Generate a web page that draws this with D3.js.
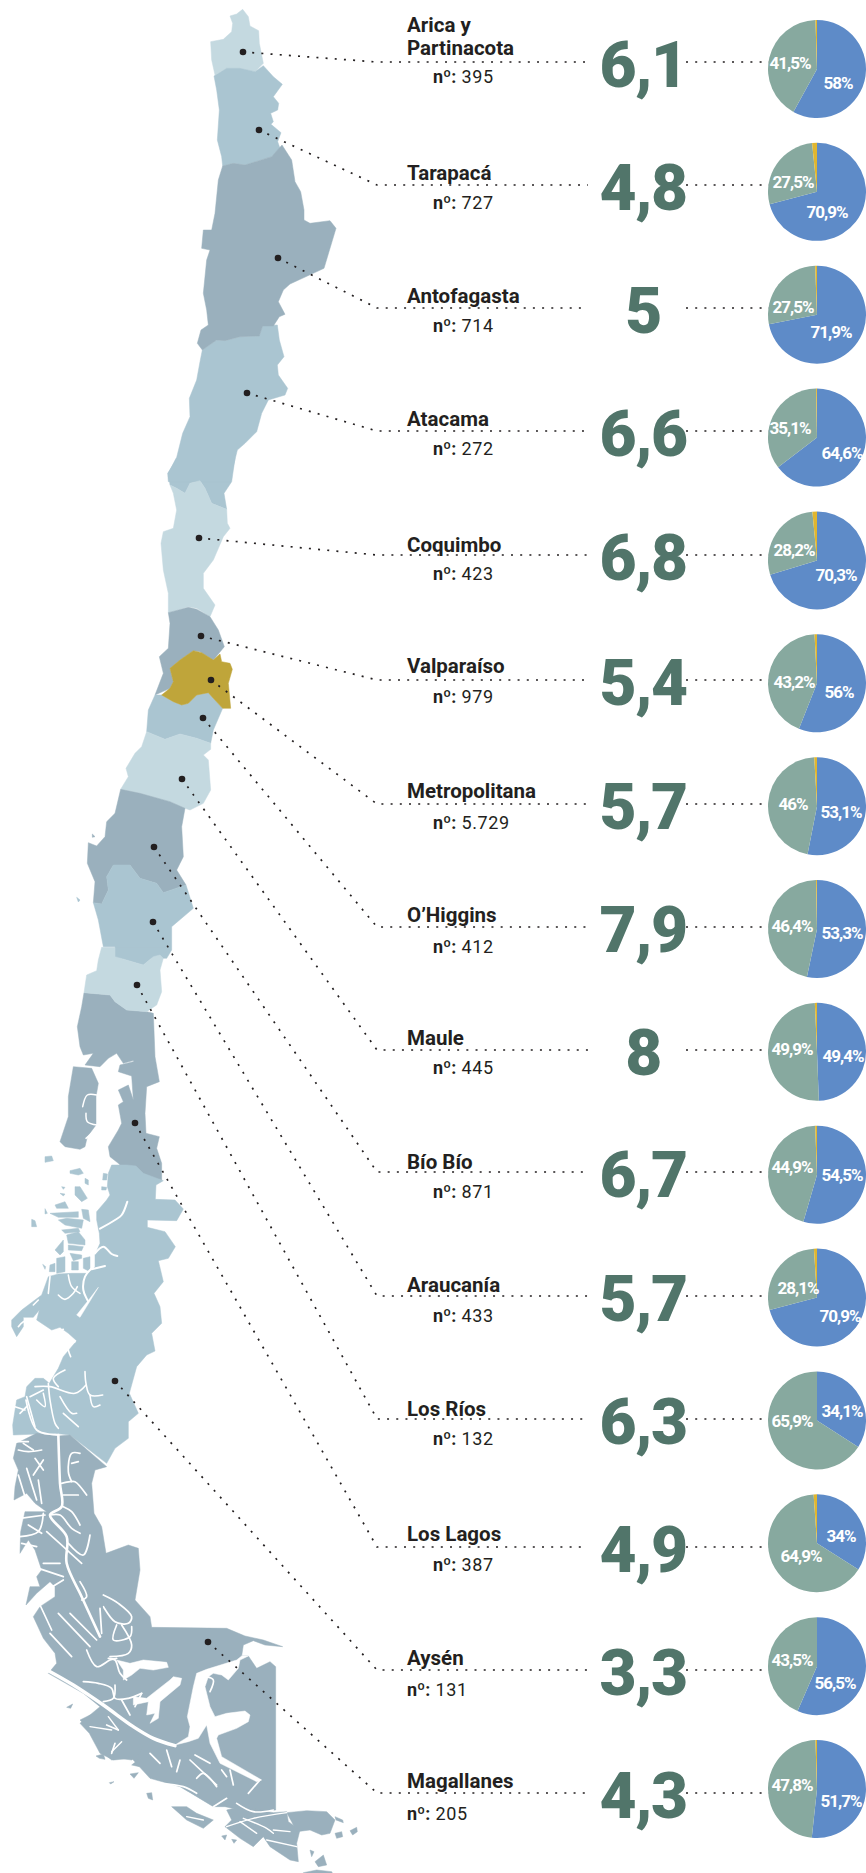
<!doctype html>
<html lang="es">
<head>
<meta charset="utf-8">
<title>Regiones de Chile</title>
<script src="https://cdn.jsdelivr.net/npm/d3@7"></script>
<style>
  html, body { margin: 0; padding: 0; background: #fff; }
  svg { display: block; }
  text { font-family: Roboto, sans-serif; }
  .name { font-size: 20.5px; font-weight: 700; fill: #231f20; }
  .count { font-size: 18px; fill: #231f20; letter-spacing: .6px; }
  .count .n { font-weight: 700; letter-spacing: 0; }
  .big { font-size: 64px; font-weight: 900; fill: #51756a; text-anchor: middle; letter-spacing: -1.5px; }
  .pct { font-size: 17px; font-weight: 700; fill: #fff; text-anchor: middle; letter-spacing: -1px; }
</style>
</head>
<body>
<svg id="chart" width="866" height="1873"></svg>
<script>
// data
var regions = ["Arica y Partinacota", "Tarapacá", "Antofagasta", "Atacama", "Coquimbo", "Valparaíso", "Metropolitana",
  "O’Higgins", "Maule", "Bío Bío", "Araucanía", "Los Ríos", "Los Lagos", "Aysén", "Magallanes"];
var counts = ["395", "727", "714", "272", "423", "979", "5.729", "412", "445", "871", "433", "132", "387", "131", "205"];
var scores = ["6,1", "4,8", "5", "6,6", "6,8", "5,4", "5,7", "7,9", "8", "6,7", "5,7", "6,3", "4,9", "3,3", "4,3"];
var shareBlue = [58, 70.9, 71.9, 64.6, 70.3, 56, 53.1, 53.3, 49.4, 54.5, 70.9, 34.1, 34, 56.5, 51.7];
var shareGreen = [41.5, 27.5, 27.5, 35.1, 28.2, 43.2, 46, 46.4, 49.9, 44.9, 28.1, 65.9, 64.9, 43.5, 47.8];
var shareYellow = [0.5, 1.6, 0.6, 0.3, 1.5, 0.8, 0.9, 0.3, 0.7, 0.6, 1, 0, 1.1, 0, 0.5];

// layout
var lineY = [62, 185, 308, 431, 555, 680, 804, 927, 1050, 1172, 1296, 1419, 1547, 1670, 1793];
var nameY = [55, 180, 303, 426, 552, 673, 798, 922, 1045, 1169, 1292, 1416, 1541, 1665, 1788];
var countY = [83, 209, 332, 455, 580, 703, 829, 953, 1074, 1198, 1322, 1445, 1571, 1696, 1820];
var countX = [433, 433, 433, 433, 433, 433, 433, 433, 433, 433, 433, 433, 433, 407, 407];
var dots = [[243, 52], [259, 130], [278, 258], [247, 393], [199, 538], [201, 636], [211, 680], [203, 718], [182, 779],
  [154, 847], [153, 922], [137, 985], [135, 1123], [115, 1381], [208, 1642]];
var blueLabel = [[21, 14], [10, 20], [14, 17], [25, 15], [19, 15], [22, 9], [24, 6], [25, 4], [26, 4], [25, 0], [23, 18], [25, -9], [24, -7], [18, 17], [24, 12]];
var greenLabel = [[-27, -6], [-24, -10], [-24, -8], [-27, -10], [-23, -10], [-23, -1], [-24, -2], [-25, -3], [-25, -3], [-25, -8], [-19, -10], [-25, 1], [-16, 13], [-25, -6], [-25, -4]];

// map outlines, traced on 3x crops; each sheet has its own origin
var sheets = { A: [0, 0], B: [0, 460], C: [0, 950], D: [0, 1400], E: [0, 1130], G: [40, 1630] };
var light = "#c4d9e0", mid = "#aac5d1", dark = "#9ab0bd", gold = "#bfa53a";

var arica = [[728,28],[745,50],[750,78],[776,92],[778,130],[790,190],[765,215],[720,205],[680,205],[645,225],[635,180],[632,125],[670,118],[695,95],[698,70],[690,48],[710,42]];
var tarapaca = [[642,228],[680,205],[720,205],[765,215],[790,197],[820,230],[847,253],[820,290],[836,310],[833,330],[812,340],[820,365],[813,373],[843,398],[833,425],[840,445],[815,470],[735,495],[700,490],[668,498],[665,470],[652,420],[658,330],[650,270]];
var antofagasta = [[668,498],[700,490],[735,495],[815,470],[846,435],[875,480],[885,545],[902,575],[912,630],[912,660],[930,670],[990,662],[1008,685],[972,805],[870,852],[850,870],[835,905],[855,943],[838,950],[820,978],[788,978],[778,1008],[720,1010],[675,1022],[650,1020],[607,1050],[592,1030],[603,990],[625,975],[620,930],[610,880],[620,780],[630,750],[605,745],[610,690],[635,690],[645,640],[655,540]];
var atacama = [[607,1050],[650,1020],[675,1022],[720,1010],[778,1008],[788,978],[832,975],[838,1020],[852,1070],[832,1095],[835,1125],[863,1165],[855,1185],[805,1200],[785,1240],[770,1295],[735,1330],[712,1350],[695,1420],[690,1445],[505,1445],[503,1420],[528,1380],[548,1300],[570,1250],[568,1195],[590,1140],[600,1085]];
var atacamaEnd = [[528,-5],[705,-5],[695,65],[672,100],[680,148],[635,130],[615,85],[600,62],[570,70],[555,100],[530,85],[510,75],[505,40]];
var coquimbo = [[510,75],[530,85],[555,100],[570,70],[600,62],[615,85],[635,130],[680,148],[682,190],[690,205],[670,230],[640,300],[610,340],[610,385],[645,435],[630,470],[590,445],[565,440],[505,458],[505,400],[490,330],[483,250],[490,215],[520,205],[530,150],[520,100]];
var valparaiso = [[505,458],[565,442],[590,448],[630,470],[655,510],[673,560],[640,600],[600,575],[580,572],[540,600],[510,625],[520,665],[510,685],[465,705],[490,640],[478,590],[505,565],[510,490]];
var metropolitana = [[510,625],[540,600],[580,572],[605,578],[640,600],[660,582],[665,605],[690,610],[697,628],[685,670],[692,745],[668,745],[640,715],[625,698],[590,705],[565,730],[545,735],[520,725],[485,705],[510,685],[520,665]];
var ohiggins = [[465,705],[485,705],[520,725],[545,735],[565,730],[590,705],[625,698],[640,715],[668,745],[640,810],[632,850],[590,835],[540,822],[495,838],[440,815],[445,750]];
var maule = [[440,815],[495,838],[540,822],[590,835],[632,850],[632,868],[610,885],[625,900],[632,990],[610,1030],[570,1050],[555,1045],[510,1025],[420,1000],[362,988],[385,950],[378,925],[405,880],[425,860]];
var biobio = [[362,988],[420,1000],[510,1025],[555,1045],[545,1100],[550,1190],[530,1230],[558,1275],[490,1298],[470,1270],[420,1255],[390,1215],[340,1215],[320,1250],[325,1290],[305,1332],[280,1328],[285,1265],[262,1210],[265,1148],[290,1158],[315,1130],[320,1085],[345,1060]];
var biobioIslet = [[277,1122],[285,1130],[277,1132]];
var araucania = [[280,1328],[305,1332],[325,1290],[320,1250],[340,1215],[390,1215],[420,1255],[470,1270],[490,1298],[558,1275],[580,1345],[515,1400],[515,1470],[500,1495],[345,1495],[345,1460],[310,1460],[295,1380]];
var araucaniaIslet = [[230,1312],[240,1320],[235,1326]];
var araucaniaEnd = [[342,-5],[510,-5],[480,22],[460,20],[430,45],[345,20]];
var losRios = [[305,-8],[345,-8],[345,20],[430,45],[460,20],[480,15],[490,25],[480,60],[485,125],[470,165],[440,185],[380,180],[345,155],[330,135],[252,128],[260,75],[290,62],[295,30]];
var losLagos = [[252,128],[330,135],[345,155],[380,180],[440,185],[460,190],[465,320],[478,395],[440,410],[435,490],[438,550],[478,560],[470,595],[485,640],[485,690],[430,680],[405,648],[370,655],[355,640],[330,620],[325,590],[355,540],[365,520],[355,465],[370,455],[355,420],[385,405],[400,450],[395,378],[355,365],[360,345],[400,335],[415,290],[405,330],[370,340],[350,310],[325,325],[300,350],[255,345],[280,310],[250,315],[240,290],[232,230],[245,170]];
var chiloe = [[220,350],[275,355],[295,400],[288,440],[288,525],[262,560],[255,590],[240,598],[195,590],[180,575],[205,500],[205,440]];
var chiloeFjords = [[[290,435],[262,435],[248,470]], [[292,525],[262,515],[258,490]], [[275,550],[258,565]]];

var aysen = [[335,105],[380,105],[408,108],[430,130],[490,152],[468,165],[466,208],[525,210],[550,237],[530,272],[442,270],[442,292],[495,305],[526,350],[505,385],[475,392],[490,455],[462,490],[480,530],[485,580],[455,610],[465,663],[440,675],[410,710],[388,790],[415,850],[385,875],[385,925],[345,955],[320,1000],[210,915],[165,910],[40,915],[38,885],[50,810],[75,800],[80,770],[105,745],[130,745],[148,760],[175,715],[190,680],[230,632],[205,610],[180,592],[155,600],[110,570],[118,540],[100,562],[70,562],[70,590],[50,620],[35,590],[35,570],[65,540],[105,510],[125,495],[145,440],[175,432],[215,430],[260,430],[285,410],[285,375],[300,340],[298,310],[290,270],[290,245],[320,210],[330,195],[322,170],[325,130]];
var aysenIslands = [
  [[210,122],[240,115],[250,130],[235,135],[210,130]],
  [[255,145],[265,150],[265,165],[255,160]],
  [[225,170],[240,170],[262,205],[245,215],[225,195]],
  [[165,225],[195,215],[205,235],[170,235]],
  [[150,250],[235,245],[235,262],[175,262]],
  [[245,238],[265,240],[270,275],[250,265]],
  [[175,270],[200,265],[250,270],[245,295],[195,285]],
  [[185,300],[235,295],[240,305],[195,310]],
  [[200,315],[235,305],[255,330],[255,345],[205,340]],
  [[205,345],[250,350],[245,362],[205,360]],
  [[165,360],[190,330],[190,365],[180,375]],
  [[170,385],[195,380],[195,425],[170,430]],
  [[210,370],[245,375],[245,385],[220,392]],
  [[215,395],[235,395],[235,420],[215,420]],
  [[250,385],[270,380],[270,425],[250,415]],
  [[150,405],[165,400],[165,425],[148,425]],
  [[128,403],[137,410],[135,418]],
  [[95,268],[105,272],[110,290],[95,290]],
  [[135,236],[142,250],[135,252]],
  [[135,80],[155,78],[160,92],[135,97]],
  [[185,170],[195,172],[190,178]],
  [[180,190],[195,192],[190,198]],
  [[310,130],[322,132],[320,150],[308,150]],
  [[305,170],[320,172],[318,180],[305,180]]
];
var aysenFjords = [
  [[382,215],[365,255],[345,270],[300,296]],
  [[285,370],[310,350],[335,372],[352,378]],
  [[275,418],[315,408]],
  [[280,410],[255,440],[250,480],[265,515]],
  [[175,495],[195,508],[220,490],[232,470]],
  [[225,635],[205,650],[212,680]],
  [[55,590],[70,575],[100,570]],
  [[140,620],[190,598]],
  [[255,725],[258,760],[270,795],[308,795]],
  [[258,765],[225,790],[150,770],[105,770]],
  [[270,795],[280,830],[300,825]],
  [[145,760],[150,810],[165,880],[175,895]],
  [[195,720],[160,745],[175,770]],
  [[80,800],[105,890]],
  [[130,790],[135,830],[110,810]],
  [[190,850],[235,890]],
  [[180,800],[215,850],[230,850]],
  [[90,800],[130,780]],
  [[150,440],[145,490]],
  [[205,435],[215,470],[240,490]],
  [[60,850],[80,830]],
  [[45,830],[75,840]],
  [[115,510],[100,525]]
];
var aysenPatch = [[230,555],[240,562],[295,472],[270,505]];
var aysenPatchB = [[170,640],[188,635],[185,655]];

var magallanes = [[210,105],[320,200],[285,210],[275,250],[282,340],[305,380],[318,460],[385,435],[415,445],[420,510],[405,600],[450,650],[455,682],[680,685],[735,708],[790,720],[848,740],[795,735],[760,722],[730,735],[725,768],[745,768],[770,805],[810,785],[827,800],[827,1230],[760,1238],[675,1220],[640,1220],[590,1190],[540,1160],[450,1135],[395,1075],[340,1080],[300,1060],[268,1000],[240,970],[300,920],[250,880],[145,820],[170,790],[165,760],[130,715],[100,650],[120,620],[165,590],[165,560],[150,545],[110,580],[78,615],[90,560],[120,560],[110,530],[125,510],[105,450],[85,420],[60,460],[62,395],[75,335],[140,335],[105,310],[80,280],[42,300],[45,260],[55,210],[40,175],[50,130],[110,100],[175,108]];
var magFjords = [
  [[175,105],[180,250],[185,320],[150,345],[200,410],[200,490],[245,590],[300,710]],
  [[185,250],[210,245],[225,245],[260,285]],
  [[215,245],[205,215],[215,160],[240,160]],
  [[235,185],[215,190]],
  [[190,285],[235,285]],
  [[190,320],[215,335],[240,375]],
  [[150,345],[180,345],[215,385],[240,400]],
  [[140,395],[190,440],[245,490]],
  [[205,430],[250,465],[270,405]],
  [[240,545],[260,590],[245,600]],
  [[310,585],[355,610],[395,650],[385,670],[345,665],[310,620],[330,650]],
  [[300,625],[305,700]],
  [[350,675],[340,720],[390,710],[395,680]],
  [[365,675],[395,735],[385,760],[330,770]],
  [[78,0],[110,90],[175,105]],
  [[105,175],[130,210]],
  [[55,150],[85,155],[125,150]],
  [[115,240],[125,310]],
  [[80,205],[110,300]],
  [[210,640],[290,720]],
  [[175,640],[270,740]],
  [[120,615],[155,690]],
  [[60,355],[135,345]],
  [[85,375],[125,400]],
  [[60,410],[115,395],[130,340]],
  [[100,500],[190,530]],
  [[125,580],[190,540]],
  [[150,700],[215,770]],
  [[40,125],[85,125]],
  [[70,130],[100,150]],
  [[130,180],[100,225]],
  [[55,225],[75,290]],
  [[65,430],[110,440]],
  [[130,490],[180,490]]
];
var strait = [[605,78],[590,90],[500,118],[470,130],[460,170],[442,260],[450,290],[445,320],[405,345],[445,335],[475,325],[500,285],[510,340],[540,400],[650,455],[665,450],[545,380],[530,325],[535,315],[590,295],[625,275],[630,255],[615,243],[560,250],[525,260],[510,230],[495,170],[505,140],[520,130],[545,135],[565,150],[595,115],[600,90],[625,78]];
var laguna = [[230,90],[270,100],[310,90],[380,97],[385,112],[340,120],[300,115],[275,135],[250,150],[250,120]];
var bird = [[425,145],[400,140],[390,150],[345,185],[320,205],[280,200],[280,225],[325,215],[320,255],[345,250],[330,280],[355,265],[360,215],[420,165]];
var magChannels = [
  [[25,122],[100,165],[190,225],[280,290],[340,325],[405,347]],
  [[205,85],[225,90],[240,130],[260,150]],
  [[140,60],[170,110],[210,90],[230,85]],
  [[130,155],[175,160],[215,175],[225,205],[265,205],[305,190]],
  [[225,165],[220,205],[190,215]],
  [[305,190],[285,230]],
  [[245,210],[270,255]],
  [[450,390],[530,465]],
  [[570,420],[580,465]],
  [[470,445],[490,430],[530,470]],
  [[660,450],[625,490]],
  [[500,140],[520,150],[510,185]],
  [[545,420],[560,440]],
  [[590,520],[640,545],[700,540]],
  [[520,530],[560,505]],
  [[445,490],[510,530]],
  [[360,460],[430,470],[470,490]],
  [[200,285],[235,300]],
  [[225,340],[215,370]],
  [[330,370],[360,400]],
  [[380,360],[395,410]],
  [[420,390],[410,425]],
  [[465,375],[510,400]]
];
var magIslands = [
  [[120,270],[150,255],[210,250],[240,285],[290,315],[310,345],[300,370],[275,390],[240,385],[215,390],[180,360],[175,330],[150,300]],
  [[395,530],[440,530],[470,550],[520,570],[490,595],[440,570]],
  [[560,540],[600,530],[700,548],[740,545],[745,575],[780,600],[770,640],[775,695],[750,690],[690,650],[670,620],[640,650],[600,625],[555,590],[575,570]],
  [[740,548],[800,542],[860,545],[885,570],[870,610],[845,615],[810,600],[770,605],[755,575]],
  [[885,560],[908,570],[910,578],[888,570]],
  [[885,610],[905,605],[908,620],[890,625]],
  [[930,602],[950,592],[952,605],[938,615]],
  [[810,660],[822,665],[815,680]],
  [[825,695],[850,675],[860,705],[835,710]],
  [[790,728],[830,720],[875,725],[880,735],[790,735]],
  [[80,232],[98,222],[92,235]],
  [[208,458],[222,455],[212,462]],
  [[168,378],[190,372],[195,388],[178,385]],
  [[270,432],[295,428],[282,445]],
  [[275,405],[300,385],[298,410]],
  [[320,490],[335,488],[338,510],[325,505]],
  [[545,618],[560,615],[555,630]],
  [[575,628],[590,630],[582,640]]
];
var islandChannels = [
  [[150,290],[215,300]],
  [[205,260],[235,300]],
  [[245,335],[215,365]],
  [[610,565],[680,595],[700,610]],
  [[560,590],[640,565],[740,548]],
  [[700,600],[750,605]],
  [[680,630],[770,650]],
  [[600,575],[650,610]],
  [[440,560],[490,570]]
];

var mapShapes = [
  { sheet: "B", fill: mid, pts: atacamaEnd },
  { sheet: "A", fill: mid, pts: atacama },
  { sheet: "A", fill: light, pts: arica },
  { sheet: "A", fill: mid, pts: tarapaca },
  { sheet: "A", fill: dark, pts: antofagasta },
  { sheet: "B", fill: light, pts: coquimbo },
  { sheet: "B", fill: dark, pts: valparaiso },
  { sheet: "B", fill: mid, pts: ohiggins },
  { sheet: "B", fill: light, pts: maule },
  { sheet: "B", fill: dark, pts: biobio },
  { sheet: "B", fill: dark, pts: biobioIslet },
  { sheet: "B", fill: mid, pts: araucania },
  { sheet: "B", fill: mid, pts: araucaniaIslet },
  { sheet: "C", fill: mid, pts: araucaniaEnd },
  { sheet: "C", fill: dark, pts: losLagos },
  { sheet: "C", fill: dark, pts: chiloe },
  { sheet: "C", fill: light, pts: losRios },
  { sheet: "E", fill: mid, pts: aysen },
  { sheet: "D", fill: dark, pts: magallanes },
  { sheet: "B", fill: gold, pts: metropolitana }
];

var line = d3.line()
  .x(function(p) { return p[0]; })
  .y(function(p) { return p[1]; });

function sheetPoints(sheet, pts) {
  var o = sheets[sheet];
  var x = d3.scaleLinear().domain([0, 3]).range([o[0], o[0] + 1]);
  var y = d3.scaleLinear().domain([0, 3]).range([o[1], o[1] + 1]);
  return pts.map(function(p) { return [x(p[0]), y(p[1])]; });
}

var svg = d3.select("#chart");
var mapG = svg.append("g");

function land(sheet, pts, fill) {
  mapG.append("path")
    .attr("d", line.curve(d3.curveLinearClosed)(sheetPoints(sheet, pts)))
    .attr("fill", fill)
    .attr("stroke", fill)
    .attr("stroke-width", 0.5)
    .attr("stroke-linejoin", "round");
}
function water(sheet, pts, w) {
  mapG.append("path")
    .attr("d", line.curve(d3.curveCatmullRom)(sheetPoints(sheet, pts)))
    .attr("fill", "none")
    .attr("stroke", "#fff")
    .attr("stroke-width", w)
    .attr("stroke-linejoin", "round")
    .attr("stroke-linecap", "round");
}

mapShapes.forEach(function(s) { land(s.sheet, s.pts, s.fill); });
aysenIslands.forEach(function(p) { land("E", p, mid); });
magIslands.forEach(function(p) { land("G", p, dark); });

chiloeFjords.forEach(function(p) { water("C", p, 1.5); });
aysenFjords.forEach(function(p, k) { water("E", p, k < 4 ? 2 : 1.6); });
land("E", aysenPatch, "#fff");
land("E", aysenPatchB, "#fff");
magFjords.forEach(function(p, k) { water("D", p, k === 0 ? 2.6 : 1.7); });
land("G", strait, "#fff");
land("G", laguna, "#fff");
land("G", bird, "#fff");
magChannels.forEach(function(p, k) { water("G", p, k === 0 ? 3.4 : 1.7); });
islandChannels.forEach(function(p) { water("G", p, 1.4); });

// rows
var elbowX = 377, lineEnd = 588, rightStart = 686, pieX = 817, pieR = 49;
var pieY = d3.scalePoint().domain(regions).range([69, 1789]);
var pie = d3.pie().sort(null).value(function(d) { return d; });
var arc = d3.arc().innerRadius(0).outerRadius(pieR);
var pieColors = d3.scaleOrdinal().domain([0, 1, 2]).range(["#5e8bc8", "#87a99f", "#e0b62f"]);
var dotted = d3.line();

function pct(v) { return String(v).replace(".", ",") + "%"; }

regions.forEach(function(name, i) {
  var y = lineY[i];
  var g = svg.append("g");

  g.append("path")
    .attr("d", dotted([dots[i], [elbowX, y], [lineEnd, y]]))
    .attr("fill", "none").attr("stroke", "#231f20")
    .attr("stroke-width", 1.7).attr("stroke-dasharray", "2 7.2");
  g.append("path")
    .attr("d", dotted([[rightStart, y], [pieX - 47, y]]))
    .attr("fill", "none").attr("stroke", "#231f20")
    .attr("stroke-width", 1.7).attr("stroke-dasharray", "2 7.2");

  g.append("circle").attr("cx", dots[i][0]).attr("cy", dots[i][1]).attr("r", 3.3).attr("fill", "#231f20");

  if (i === 0) {
    g.append("text").attr("class", "name").attr("x", 407).attr("y", 32).text("Arica y");
    g.append("text").attr("class", "name").attr("x", 407).attr("y", nameY[i]).text("Partinacota");
  } else {
    g.append("text").attr("class", "name").attr("x", 407).attr("y", nameY[i]).text(name);
  }
  var c = g.append("text").attr("class", "count").attr("x", countX[i]).attr("y", countY[i]);
  c.append("tspan").attr("class", "n").text("nº:");
  c.append("tspan").text(" " + counts[i]);

  g.append("text").attr("class", "big").attr("x", 643).attr("y", y + 25).text(scores[i]);

  var p = g.append("g").attr("transform", "translate(" + pieX + "," + pieY(name) + ")");
  p.selectAll("path")
    .data(pie([shareBlue[i], shareGreen[i], shareYellow[i]]))
    .enter().append("path")
    .attr("d", arc)
    .attr("fill", function(d, k) { return pieColors(k); });
  p.append("text").attr("class", "pct").attr("x", blueLabel[i][0]).attr("y", blueLabel[i][1] + 6).text(pct(shareBlue[i]));
  p.append("text").attr("class", "pct").attr("x", greenLabel[i][0]).attr("y", greenLabel[i][1] + 6).text(pct(shareGreen[i]));
});
</script>
</body>
</html>
